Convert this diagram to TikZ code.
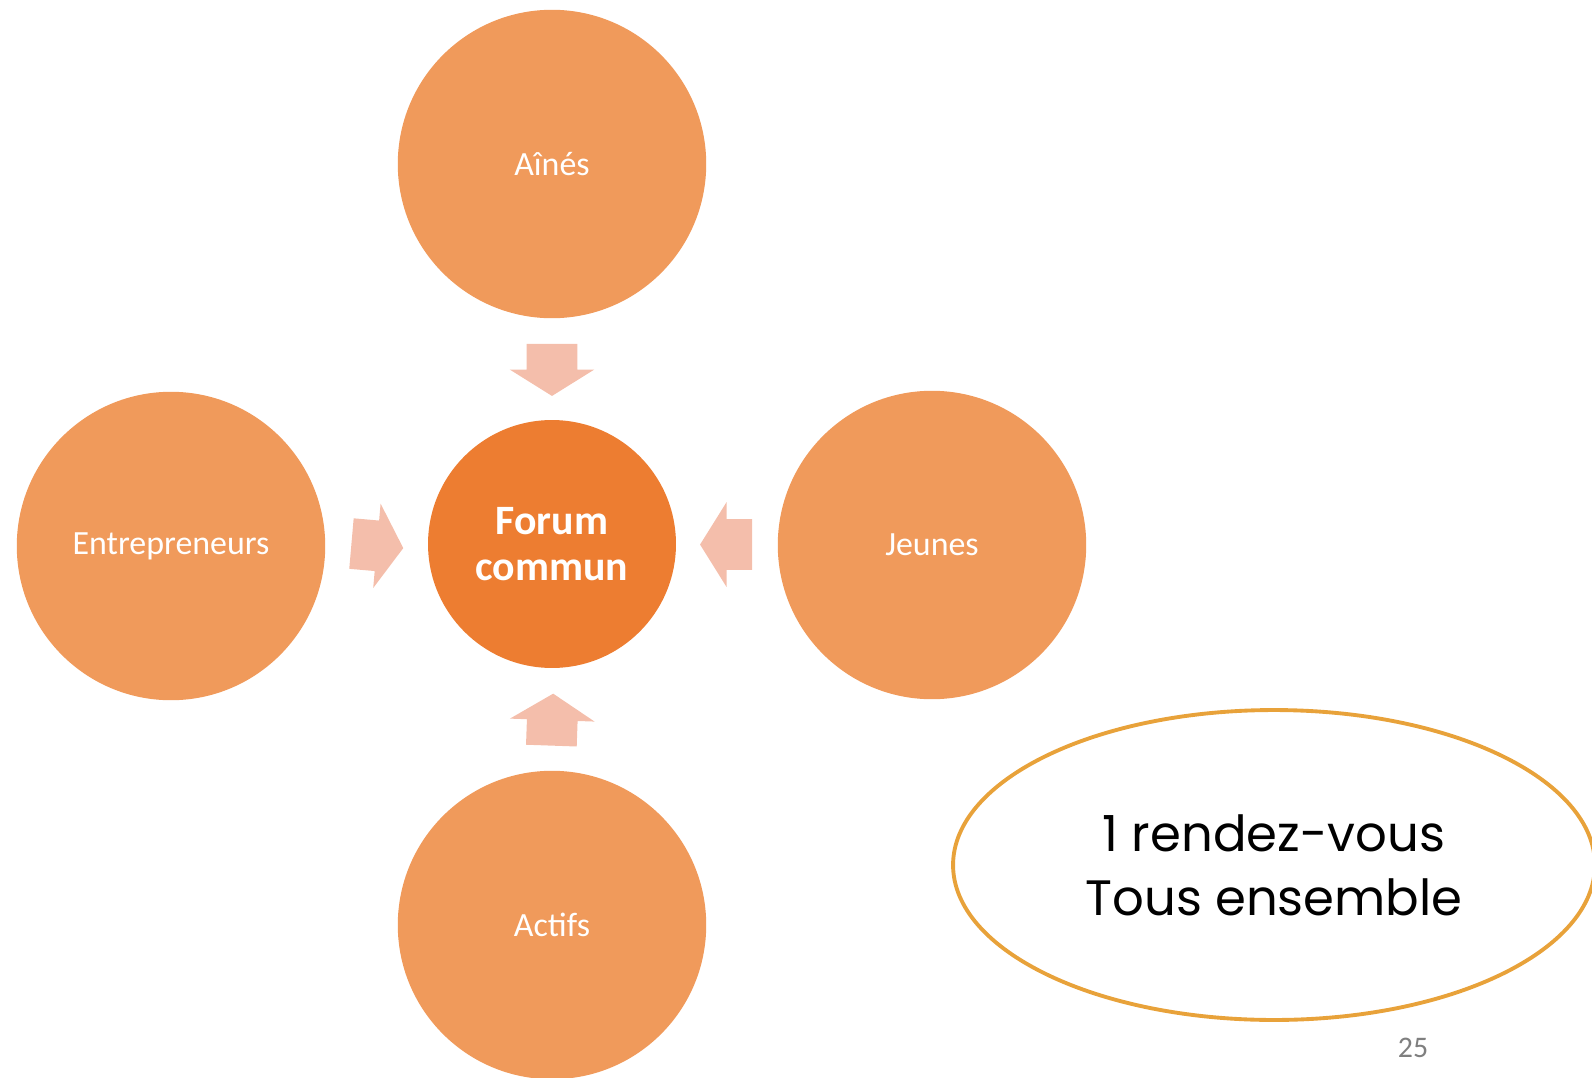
\documentclass[tikz,border=0pt]{standalone}
\usepackage{fontspec}
\setmainfont{Carlito}
\newfontfamily\gothic{Poppins}
\usetikzlibrary{shapes.arrows,shapes.geometric,calc}
\definecolor{petal}{HTML}{F09A5B}
\definecolor{core}{HTML}{ED7D31}
\definecolor{arrowfill}{HTML}{F4BEAB}
\definecolor{ring}{HTML}{E8A23A}
\definecolor{pagegray}{HTML}{7F7F7F}
\begin{document}
\begin{tikzpicture}[x=0.02cm,y=-0.02cm,
    petalnode/.style={circle,fill=petal,minimum size=6.17cm,inner sep=0pt,text=white,font=\fontsize{19.3}{23}\selectfont},
    blockarrow/.style={single arrow,fill=arrowfill,inner xsep=0pt,inner ysep=0.5cm,minimum height=1.04cm,single arrow head extend=0.34cm,single arrow tip angle=116,single arrow head indent=0pt}]
    \useasboundingbox (0,0) rectangle (1592,1078);

    % centre
    \node[circle,fill=core,minimum size=4.96cm,inner sep=0pt,text=white,align=center,
          font=\bfseries\fontsize{23.8}{26.6}\selectfont] (forum) at (552,544) {Forum\\commun};

    % groups
    \node[petalnode] (aines) at (552,164) {Aînés};
    \node[petalnode] (entre) at (171,546) {Entrepreneurs};
    \node[petalnode] (jeunes) at (932,545) {Jeunes};
    \node[petalnode] (actifs) at (552,925) {Actifs};

    % arrows towards the forum
    \node[blockarrow,rotate=-90] (toptip) at ($(aines.south)!0.43!(forum.north)$) {};
    \node[blockarrow,rotate=-5] (lefttip) at ($(entre.east)!0.43!(forum.west)$) {};
    \node[blockarrow,rotate=180] (righttip) at ($(jeunes.west)!0.43!(forum.east)$) {};
    \node[blockarrow,rotate=88] (bottip) at ($(actifs.north)!0.42!(forum.south)$) {};

    \node[ellipse,draw=ring,line width=2.2pt,minimum width=12.84cm,minimum height=6.2cm,inner sep=0pt,
          align=center,font=\gothic\fontsize{28.3}{36.3}\selectfont] (meet) at (1274,865) {1 rendez-vous\\Tous ensemble};

    \node[text=pagegray,font=\fontsize{17}{20}\selectfont] (page) at (1413,1048) {25};
\end{tikzpicture}
\end{document}
